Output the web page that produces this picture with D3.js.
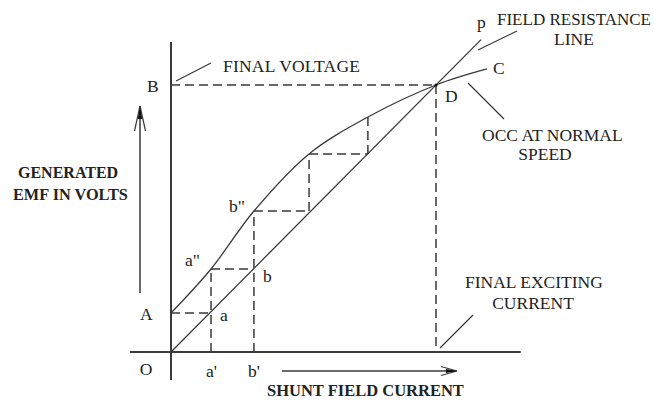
<!DOCTYPE html>
<html>
<head>
<meta charset="utf-8">
<script src="https://cdn.jsdelivr.net/npm/d3@7"></script>
<style>
  html, body { margin: 0; padding: 0; background: #fff; }
  svg { display: block; }
  text { font-family: "Liberation Serif", "Times New Roman", serif; fill: #222; }
  .bold { font-weight: bold; }
</style>
</head>
<body>
<svg id="chart" width="654" height="401"></svg>
<script>
// ---- data (field current vs generated EMF, arbitrary units; D = final operating point) ----
const occX = [0, 15.1, 31.3, 52.1, 74.3, 100, 119.2];          // OCC field current
const occY = [14.6, 31.1, 52.8, 74.2, 88.0, 100, 106.0];        // OCC generated EMF
const fieldResX = [0, 117];                                      // field resistance line
const fieldResY = [0, 117];
const stairX = [15.1, 31.3, 52.1, 74.3];                         // build-up steps (a', b', ...)
const stairY = [14.6, 31.1, 52.8, 74.2, 88.0];                   // EMF levels (A, a'', b'', ...)
const finalPoint = [100, 100];                                   // D
const xAxisExtent = [-15.5, 132];
const yAxisExtent = [-10.5, 116.1];

const svg = d3.select("#chart");
const x = d3.scaleLinear().domain([0, 100]).range([171, 436]);
const y = d3.scaleLinear().domain([0, 100]).range([352, 85]);

const ink = "#3a3a3a";
const dash = "9,5";

function seg(x1, y1, x2, y2, opts) {
  const o = Object.assign({w: 1.3, dash: null}, opts || {});
  const l = svg.append("line")
    .attr("x1", x1).attr("y1", y1).attr("x2", x2).attr("y2", y2)
    .attr("stroke", ink).attr("stroke-width", o.w);
  if (o.dash) l.attr("stroke-dasharray", o.dash);
  return l;
}

// axes
seg(x(xAxisExtent[0]), y(0), x(xAxisExtent[1]), y(0), {w: 2});
seg(x(0), y(yAxisExtent[0]), x(0), y(yAxisExtent[1]), {w: 2});

// dashed B-D and D-final exciting current
seg(x(0), y(finalPoint[1]), x(finalPoint[0]), y(finalPoint[1]), {w: 1.5, dash: dash});
seg(x(finalPoint[0]), y(finalPoint[1]), x(finalPoint[0]), y(0), {w: 1.5, dash: dash});

// staircase
stairX.forEach((sx, i) => {
  const x0 = i === 0 ? 0 : stairX[i - 1];
  seg(x(x0), y(stairY[i]), x(sx), y(stairY[i]), {w: 1.5, dash: dash});
  const yStart = i < 2 ? 0 : stairY[i];
  seg(x(sx), y(yStart), x(sx), y(stairY[i + 1]), {w: 1.5, dash: dash});
});

// field resistance line
const line = d3.line().x(d => x(d[0])).y(d => y(d[1]));
svg.append("path")
  .attr("d", line(fieldResX.map((v, i) => [v, fieldResY[i]])))
  .attr("fill", "none").attr("stroke", ink).attr("stroke-width", 1.3);

// OCC curve
const curve = d3.line().x(d => x(d[0])).y(d => y(d[1])).curve(d3.curveCatmullRom.alpha(0.5));
svg.append("path")
  .attr("d", curve(occX.map((v, i) => [v, occY[i]])))
  .attr("fill", "none").attr("stroke", ink).attr("stroke-width", 1.3);

svg.append("circle").attr("cx", x(finalPoint[0])).attr("cy", y(finalPoint[1])).attr("r", 1.6).attr("fill", "#111");

// leader lines
seg(176, 81, 211, 63, {w: 1.2});
seg(478, 50, 517, 31, {w: 1.2});
seg(468, 83, 504, 119, {w: 1.2});
seg(440, 348, 473, 315, {w: 1.2});

// vertical arrow (EMF)
seg(140, 293, 140, 106, {w: 1.5});
seg(140, 106, 134.5, 131, {w: 1.2});
seg(140, 106, 145.5, 131, {w: 1.2});
svg.append("path").attr("d", "M140,106 L137.8,119 L142.2,119 Z").attr("fill", "#111");

// horizontal arrow (field current)
seg(282, 371, 456, 371, {w: 1.5});
seg(457, 371, 441, 366.5, {w: 1.2});
seg(457, 371, 441, 375.5, {w: 1.2});
svg.append("path").attr("d", "M457,371 L446,369 L446,373 Z").attr("fill", "#111");

// text
function txt(s, tx, ty, opts) {
  const o = Object.assign({size: 17.5, anchor: "start", bold: false, ls: 0}, opts || {});
  return svg.append("text").attr("x", tx).attr("y", ty)
    .attr("font-size", o.size).attr("text-anchor", o.anchor)
    .attr("letter-spacing", o.ls)
    .classed("bold", o.bold).text(s);
}
txt("B", 147, 92);
txt("FINAL VOLTAGE", 223, 72, {ls: 0.2});
txt("p", 477, 28);
txt("FIELD RESISTANCE", 497, 25, {size: 17});
txt("LINE", 574, 45, {anchor: "middle"});
txt("C", 493, 74);
txt("D", 445, 102);
txt("OCC AT NORMAL", 482, 141);
txt("SPEED", 545, 160, {anchor: "middle"});
txt("FINAL EXCITING", 465, 288);
txt("CURRENT", 533, 309, {anchor: "middle"});
txt("A", 140, 320);
txt("a", 220, 321);
txt("b", 263, 282);
txt("a\"", 185, 266);
txt("b\"", 229, 212);
txt("O", 146, 375, {anchor: "middle"});
txt("a'", 206, 377);
txt("b'", 248, 377);
txt("GENERATED", 18, 178, {size: 16, bold: true});
txt("EMF IN VOLTS", 13, 200, {size: 16.3, bold: true});
txt("SHUNT FIELD CURRENT", 267, 396, {size: 16.5, bold: true});
</script>
</body>
</html>
